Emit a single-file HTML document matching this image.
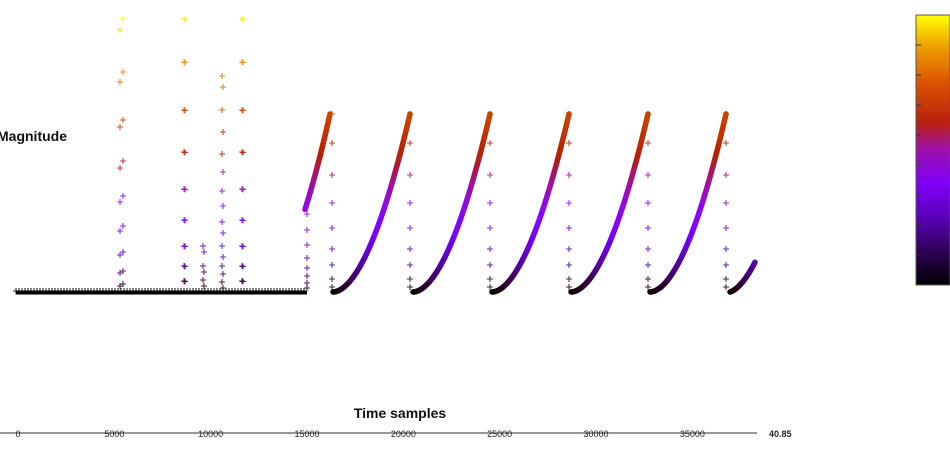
<!DOCTYPE html>
<html><head><meta charset="utf-8">
<style>
html,body{margin:0;padding:0;background:#fff;width:950px;height:460px;overflow:hidden}
svg{display:block}
text{font-family:"Liberation Sans",sans-serif}
</style></head>
<body>
<svg id="s" width="950" height="460" xmlns="http://www.w3.org/2000/svg">
<defs>
<linearGradient id="cb" x1="0" y1="1" x2="0" y2="0">
<stop offset="0" stop-color="#000000"/>
<stop offset="0.125" stop-color="#2e0058"/>
<stop offset="0.25" stop-color="#5a00b8"/>
<stop offset="0.375" stop-color="#7f00f8"/>
<stop offset="0.5" stop-color="#9e10b0"/>
<stop offset="0.6" stop-color="#b82010"/>
<stop offset="0.75" stop-color="#dc5400"/>
<stop offset="0.875" stop-color="#ee9a00"/>
<stop offset="1" stop-color="#ffff00"/>
</linearGradient>
</defs>
<rect x="916" y="15" width="34" height="270" fill="url(#cb)" stroke="#555" stroke-width="1"/>
<g id="cbt" stroke="#333" stroke-width="1"></g>
<g id="pts"></g>
<text x="-3" y="141" font-size="14" font-weight="bold" fill="#111">Magnitude</text>
<text x="400" y="418" font-size="14" font-weight="bold" fill="#111" text-anchor="middle">Time samples</text>
<line x1="0" y1="433" x2="757" y2="433" stroke="#777" stroke-width="1.5"/>
<g font-size="9" fill="#222" text-anchor="middle" id="tl"></g>
<text x="769" y="437" font-size="9" font-weight="bold" fill="#222">40.85</text>
</svg>
<script>
function col(f){f=Math.max(0,Math.min(1,f));
var r=Math.sqrt(f),g=f*f*f,b=Math.sin(2*Math.PI*f);if(b<0)b=0;
return 'rgb('+Math.round(r*255)+','+Math.round(g*255)+','+Math.round(b*255)+')';}
var Y0=292,Y1=15;
function fr(y){return (Y0-y)/(Y0-Y1);}
var out=[];
function plus(x,y,c){c=c||col(fr(y));out.push('<path d="M'+(x-3)+' '+y+'h6M'+x+' '+(y-3)+'v6" stroke="'+c+'" stroke-width="1.1" opacity="0.85"/>');}
out.push('<path d="M16 292.5H307" stroke="#000" stroke-width="4"/>');
for(var x=16;x<307;x+=3){plus(x,291+((x*7)%3)-1,'#000');}
var A=[19,30,72,82,120,127,161,168,196,202,226,231,252,255,271,273,284,286];
A.forEach(function(y,i){plus(i%2?120:123,y);});
var B=[19,62,110,152,189,220,246,266,281];
B.forEach(function(y){plus(184,y);plus(185,y+0.5);});
B.forEach(function(y){plus(242,y);plus(243,y+0.5);});
[246,252,266,272,280,286].forEach(function(y,i){plus(203+(i%2),y);});
[76,87,110,132,154,172,191,206,222,233,246,257,266,274,282,288].forEach(function(y,i){plus(222+(i%2),y);});
function seg(prev,x,y){out.push('<path d="M'+prev[0]+' '+prev[1]+'L'+x+' '+y+'" stroke="'+col(fr((y+prev[1])/2))+'" stroke-width="5.5" stroke-linecap="round"/>');}
function curve(x0,x1){
 var n=80,prev=null;
 for(var i=0;i<=n;i++){var t=i/n;var x=x0+(x1-x0)*t;var y=Y0-178*Math.pow(t,1.85);
  if(prev)seg(prev,x,y);prev=[x,y];}
}
var drop=[114,143,175,203,228,249,265,279,287];
(function(){var n=40,prev=null;for(var i=0;i<=n;i++){var t=0.66+0.34*i/n;var x=305+25*(i/n);var y=Y0-178*Math.pow(t,1.85);
 if(prev)seg(prev,x,y);prev=[x,y];}})();
[[333,410],[413,490],[492,569],[571,648],[650,726]].forEach(function(c){curve(c[0],c[1]);});
(function(){var n=30,prev=null;for(var i=0;i<=n;i++){var x=730+25*i/n;var t=(x-730)/77;var y=Y0-178*Math.pow(t,1.85)-((x-730)*0.3);
 if(prev)seg(prev,x,y);prev=[x,y];}})();
[307].forEach(function(x){[214,230,245,258,268,276,283,288].forEach(function(y){plus(x,y);});});
[332,410,490,569,648,726].forEach(function(x){drop.forEach(function(y){plus(x,y);});});
document.getElementById('pts').innerHTML=out.join('');
var tl='';[0,5000,10000,15000,20000,25000,30000,35000].forEach(function(v){var x=18+v*0.019267;tl+='<text x="'+x+'" y="437">'+v+'</text>';});
document.getElementById('tl').innerHTML=tl;
var ct='';for(var i=1;i<=8;i++){var y=15+i*30;ct+='<line x1="916" y1="'+y+'" x2="921" y2="'+y+'"/>';}
document.getElementById('cbt').innerHTML=ct;
</script>
</body></html>
